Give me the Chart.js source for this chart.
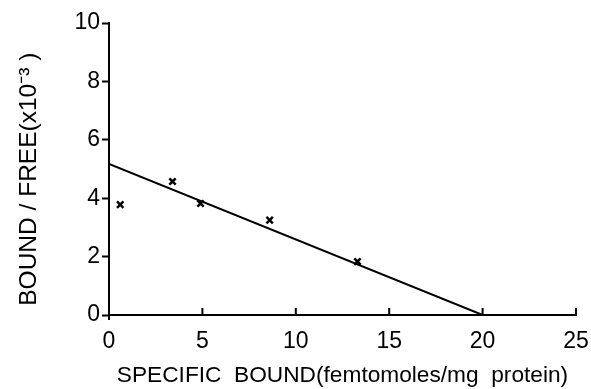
<!DOCTYPE html>
<html>
<head>
<meta charset="utf-8">
<script src="https://cdn.jsdelivr.net/npm/chart.js@4/dist/chart.umd.min.js"></script>
<style>
  html, body { margin: 0; padding: 0; background: #fff; }
  #wrap { width: 591px; height: 389px; }
</style>
</head>
<body>
<div id="wrap"><canvas id="chart" width="591" height="389"></canvas></div>
<script>
// measured points (specific bound, bound/free x10^-3)
const boundX = [0.6, 3.4, 4.9, 8.6, 13.3]
const ratioY = [3.78, 4.57, 3.82, 3.25, 1.83]
// fitted Scatchard line end points
const fitX = [0, 20]
const fitY = [5.17, 0]

const xTicks = [0, 5, 10, 15, 20, 25]
const yTicks = [0, 2, 4, 6, 8, 10]

const font = "'Liberation Sans', Arial, sans-serif"

function toXY(xs, ys) {
    let out = []
    for (let i = 0; i < xs.length; i++) {
        out.push({x: xs[i], y: ys[i]})
    }
    return out
}

// x ticks point up into the plot, y axis pokes a bit under the x axis
const axisExtras = {
    id: 'axisExtras',
    afterDraw(chart) {
        const ctx = chart.ctx
        const xs = chart.scales.x
        const ys = chart.scales.y
        const y0 = ys.getPixelForValue(0)
        ctx.save()
        ctx.strokeStyle = '#000'
        ctx.lineWidth = 2
        ctx.beginPath()
        for (let i = 1; i < xTicks.length; i++) {
            const px = xs.getPixelForValue(xTicks[i])
            ctx.moveTo(px, y0)
            ctx.lineTo(px, y0 - 7)
        }
        const x0 = xs.getPixelForValue(0)
        ctx.moveTo(x0, y0)
        ctx.lineTo(x0, y0 + 5)
        ctx.stroke()
        ctx.restore()
    }
}

new Chart(document.getElementById('chart'), {
    type: 'scatter',
    data: {
        datasets: [
            {
                data: toXY(fitX, fitY),
                showLine: true,
                borderColor: '#000',
                borderWidth: 2,
                pointRadius: 0
            },
            {
                data: toXY(boundX, ratioY),
                pointStyle: 'crossRot',
                pointRadius: 4.5,
                borderColor: '#000',
                borderWidth: 2.5,
                backgroundColor: '#000'
            }
        ]
    },
    options: {
        responsive: false,
        animation: false,
        layout: { padding: { left: 0, right: 15, top: 23, bottom: 0 } },
        plugins: {
            legend: { display: false },
            tooltip: { enabled: false }
        },
        scales: {
            x: {
                type: 'linear',
                min: 0,
                max: 25,
                afterBuildTicks: (s) => { s.ticks = xTicks.map(v => ({value: v})) },
                afterFit: (s) => { s.height = 74; s.paddingLeft = 0; s.paddingRight = 0 },
                border: { display: true, color: '#000', width: 2 },
                grid: { display: true, drawOnChartArea: false, drawTicks: false },
                ticks: { color: '#000', padding: 13, font: { family: font, size: 23 } },
                title: {
                    display: true,
                    text: 'SPECIFIC  BOUND(femtomoles/mg  protein)',
                    color: '#000',
                    font: { family: font, size: 22.7 },
                    padding: { top: 0, bottom: 0 }
                }
            },
            y: {
                type: 'linear',
                min: 0,
                max: 10,
                afterBuildTicks: (s) => { s.ticks = yTicks.map(v => ({value: v})) },
                afterFit: (s) => { s.width = 109 },
                border: { display: true, color: '#000', width: 2 },
                grid: { display: true, drawOnChartArea: false, drawTicks: true, tickLength: 7, tickWidth: 2, tickColor: '#000' },
                ticks: { color: '#000', padding: 2, font: { family: font, size: 23 } },
                title: {
                    display: true,
                    text: 'BOUND / FREE(x10⁻³ )   ',
                    color: '#000',
                    font: { family: font, size: 24.5 },
                    padding: { top: 15, bottom: 0 }
                }
            }
        }
    },
    plugins: [axisExtras]
})
</script>
</body>
</html>
